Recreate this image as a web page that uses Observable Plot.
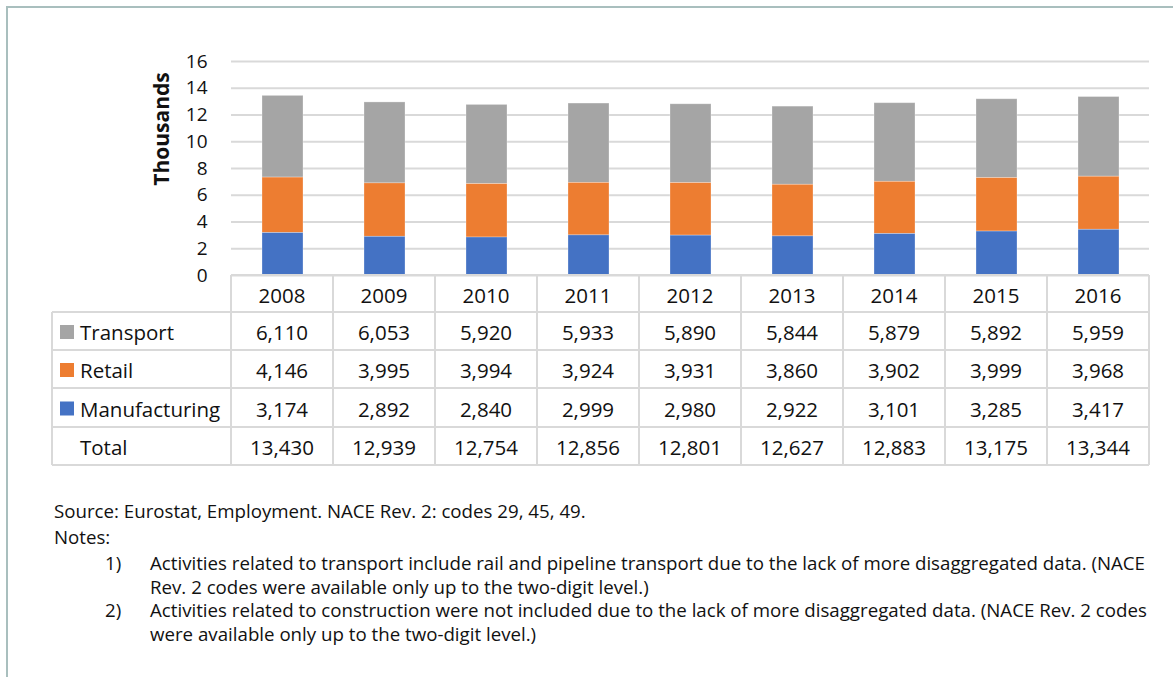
<!DOCTYPE html>
<html>
<head>
<meta charset="utf-8">
<script src="https://cdn.jsdelivr.net/npm/d3@7"></script>
<script src="https://cdn.jsdelivr.net/npm/@observablehq/plot@0.6"></script>
<style>
  html, body { margin: 0; padding: 0; background: #fff; }
  #wrap { position: relative; width: 1173px; height: 677px; overflow: hidden; font-family: "Open Sans", sans-serif; color: #111; }
  #chart { position: absolute; left: 0; top: 0; }
  .abs { position: absolute; white-space: nowrap; }
  .note { position: absolute; white-space: nowrap; font-size: 18.7px; line-height: 22px; }
</style>
</head>
<body>
<div id="wrap">
  <div id="frameTop" class="abs" style="left:7px;top:6px;width:1166px;height:0;border-top:2px solid #a9bfbe;"></div>
  <div id="frameLeft" class="abs" style="left:6px;top:6px;width:0;height:671px;border-left:2px solid #a9bfbe;"></div>
  <div id="chart"></div>
  <div id="ylabel" class="abs" style="left:161px;top:129px;transform:translate(-50%,-50%) rotate(-90deg);font-weight:700;font-size:21px;">Thousands</div>
  <svg id="table" width="1173" height="677" style="position:absolute;left:0;top:0;pointer-events:none"></svg>
  <div id="notes"></div>
</div>
<script>
// ---- data ----
const years = ["2008", "2009", "2010", "2011", "2012", "2013", "2014", "2015", "2016"];
const transport = [6110, 6053, 5920, 5933, 5890, 5844, 5879, 5892, 5959];
const retail = [4146, 3995, 3994, 3924, 3931, 3860, 3902, 3999, 3968];
const manufacturing = [3174, 2892, 2840, 2999, 2980, 2922, 3101, 3285, 3417];
const totals = [13430, 12939, 12754, 12856, 12801, 12627, 12883, 13175, 13344];
const seriesNames = ["Transport", "Retail", "Manufacturing"];
const seriesColors = ["#A5A5A5", "#ED7D31", "#4472C4"];
const yTicks = [0, 2, 4, 6, 8, 10, 12, 14, 16];
const sourceText = "Source: Eurostat, Employment. NACE Rev. 2: codes 29, 45, 49.";
const notesHeader = "Notes:";
const notes = [
  ["1)", ["Activities related to transport include rail and pipeline transport due to the lack of more disaggregated data. (NACE", "Rev. 2 codes were available only up to the two-digit level.)"]],
  ["2)", ["Activities related to construction were not included due to the lack of more disaggregated data. (NACE Rev. 2 codes", "were available only up to the two-digit level.)"]]
];

const seriesValues = {Transport: transport, Retail: retail, Manufacturing: manufacturing};
const rows = [];
for (const s of seriesNames) {
  years.forEach((y, i) => rows.push({year: y, series: s, value: seriesValues[s][i] / 1000}));
}

// ---- chart ----
const chart = Plot.plot({
  width: 1173,
  height: 290,
  marginLeft: 231,
  marginRight: 24,
  marginTop: 61,
  marginBottom: 15,
  style: {fontFamily: "Open Sans, sans-serif", fontSize: "19px", color: "#111", background: "transparent", overflow: "visible"},
  x: {domain: years, paddingInner: 0.6, paddingOuter: 0.3, axis: null},
  y: {domain: [0, 16]},
  color: {domain: seriesNames, range: seriesColors},
  marks: [
    Plot.gridY(yTicks, {stroke: "#d9d9d9", strokeOpacity: 1, strokeWidth: 2}),
    Plot.axisY(yTicks, {tickSize: 0, tickPadding: 24, label: null, fontSize: 19, fill: "#111"}),
    Plot.barY(rows, {x: "year", y: "value", fill: "series", order: ["Manufacturing", "Retail", "Transport"], stroke: "#ffffff", strokeOpacity: 0.35, strokeWidth: 0.8})
  ]
});
document.getElementById("chart").appendChild(chart);

// ---- data table ----
const xs = chart.scale("x");
const step = xs.step ?? 102;
const firstColLeft = 52;
const colEdges = years.map((y, i) => xs.range[0] + i * step);
colEdges.push(xs.range[0] + years.length * step);
const rowEdges = [275, 312, 350, 388, 427, 465];
const svg = d3.select("#table");
const lineColor = "#d9d9d9";
rowEdges.forEach((y, i) => {
  svg.append("line").attr("x1", i === 0 ? colEdges[0] : firstColLeft).attr("x2", colEdges[colEdges.length - 1])
    .attr("y1", y).attr("y2", y).attr("stroke", lineColor).attr("stroke-width", 2);
});
svg.append("line").attr("x1", firstColLeft).attr("x2", firstColLeft).attr("y1", rowEdges[1]).attr("y2", rowEdges[5])
  .attr("stroke", lineColor).attr("stroke-width", 2);
colEdges.forEach(x => {
  svg.append("line").attr("x1", x).attr("x2", x).attr("y1", rowEdges[0]).attr("y2", rowEdges[5])
    .attr("stroke", lineColor).attr("stroke-width", 2);
});
const fmt = d3.format(",");
const tfont = {"font-family": "Open Sans, sans-serif", "font-size": 20.5, fill: "#111"};
function txt(x, y, s, anchor) {
  const t = svg.append("text").attr("x", x).attr("y", y).attr("text-anchor", anchor).attr("dominant-baseline", "central").text(s);
  for (const k in tfont) t.attr(k, tfont[k]);
}
const cy = i => (rowEdges[i] + rowEdges[i + 1]) / 2;
years.forEach((y, i) => txt(colEdges[i] + step / 2, cy(0) + 1, y, "middle"));
const tableRows = [
  {label: "Transport", color: seriesColors[0], vals: transport},
  {label: "Retail", color: seriesColors[1], vals: retail},
  {label: "Manufacturing", color: seriesColors[2], vals: manufacturing},
  {label: "Total", color: null, vals: totals}
];
tableRows.forEach((r, j) => {
  const yc = cy(j + 1) + 1;
  if (r.color) svg.append("rect").attr("x", 60).attr("y", yc - 7).attr("width", 14).attr("height", 14).attr("fill", r.color);
  txt(80, yc, r.label, "start");
  r.vals.forEach((v, i) => txt(colEdges[i] + step / 2, yc, fmt(v), "middle"));
});

// ---- notes ----
const notesDiv = document.getElementById("notes");
function noteLine(x, yc, s) {
  const d = document.createElement("div");
  d.className = "note";
  d.style.left = x + "px";
  d.style.top = (yc - 11) + "px";
  d.textContent = s;
  notesDiv.appendChild(d);
}
noteLine(54, 511, sourceText);
noteLine(54, 537, notesHeader);
let yy = 563;
notes.forEach(([num, lines]) => {
  noteLine(105, yy, num);
  lines.forEach(l => { noteLine(150, yy, l); yy += 23.5; });
});
</script>
</body>
</html>
